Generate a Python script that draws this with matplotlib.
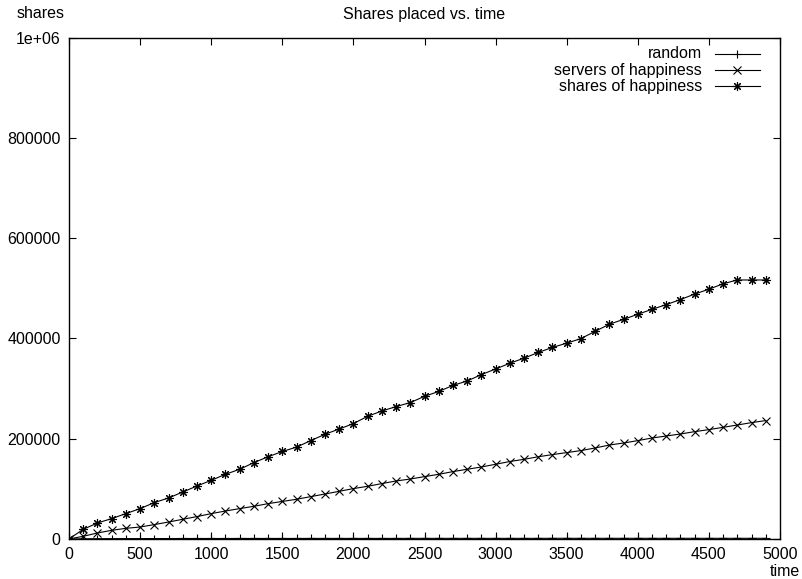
import matplotlib
matplotlib.use("Agg")
import matplotlib.pyplot as plt
from matplotlib.ticker import FixedLocator, FuncFormatter

plt.rcParams['font.family'] = ['Liberation Sans', 'DejaVu Sans']

# time axis: one sample every 100 units
time = [0, 100, 200, 300, 400, 500, 600, 700, 800, 900,
        1000, 1100, 1200, 1300, 1400, 1500, 1600, 1700, 1800, 1900,
        2000, 2100, 2200, 2300, 2400, 2500, 2600, 2700, 2800, 2900,
        3000, 3100, 3200, 3300, 3400, 3500, 3600, 3700, 3800, 3900,
        4000, 4100, 4200, 4300, 4400, 4500, 4600, 4700, 4800, 4900]

random_shares = [0, 400, 600, 700, 800, 800, 900, 900, 1000, 1000,
                 1000, 1000, 1100, 1100, 1100, 1100, 1100, 1200, 1200, 1200,
                 1200, 1200, 1200, 1200, 1300, 1300, 1300, 1300, 1300, 1300,
                 1300, 1300, 1300, 1300, 1400, 1400, 1400, 1400, 1400, 1400,
                 1400, 1400, 1400, 1400, 1400, 1400, 1400, 1400, 1400, 1400]

servers_happiness = [0, 5400, 12000, 17300, 21300, 23900, 28700, 33900, 39300, 44700,
                     50600, 55800, 60600, 65200, 70500, 74900, 79200, 84500, 89700, 95100,
                     100500, 105100, 110500, 115700, 119600, 124400, 129000, 134400, 139000, 143600,
                     149000, 154500, 158900, 164000, 168300, 172300, 176300, 181500, 187400, 191400,
                     196200, 201400, 205400, 209400, 214100, 218100, 222700, 227300, 232100, 236100]

shares_happiness = [0, 19300, 31900, 40700, 50600, 60600, 72600, 81800, 93700, 105700,
                    117000, 129000, 139000, 152300, 164000, 174500, 183200, 196200, 208800, 219300,
                    230100, 244700, 255200, 264000, 272000, 284500, 294200, 306200, 315100, 327800,
                    339000, 350500, 360600, 372000, 382000, 390500, 399600, 414200, 428200, 438000,
                    448100, 458000, 467400, 477400, 488500, 498000, 509000, 516500, 516500, 516500]

labels = ['random', 'servers of happiness', 'shares of happiness']
x_ticks = [0, 500, 1000, 1500, 2000, 2500, 3000, 3500, 4000, 4500, 5000]
y_ticks = [0, 200000, 400000, 600000, 800000, 1000000]

W, H = 803, 579
fig = plt.figure(figsize=(W / 100, H / 100), dpi=100)
left, right, top, bottom = 69, 780, 37.5, 539
ax = fig.add_axes([left / W, 1 - bottom / H, (right - left) / W, (bottom - top) / H])

series = [random_shares, servers_happiness, shares_happiness]
markers = ['+', 'x', (8, 2, 0)]
sizes = [6, 5.5, 6.5]
for ys, m, ms in zip(series, markers, sizes):
    ax.plot(time, ys, color='black', lw=0.8, marker=m, ms=ms, mew=0.8)

ax.set_xlim(0, 5000)
ax.set_ylim(0, 1000000)
ax.xaxis.set_major_locator(FixedLocator(x_ticks))
ax.yaxis.set_major_locator(FixedLocator(y_ticks))
ax.yaxis.set_major_formatter(FuncFormatter(lambda v, p: '1e+06' if v == 1000000 else '%d' % v))
ax.tick_params(direction='in', length=5, width=0.8, top=True, right=True,
               labelsize=11.5, colors='black')
ax.tick_params(axis='x', pad=5.5)
ax.tick_params(axis='y', pad=6)
for s in ax.spines.values():
    s.set_linewidth(1.0)

# gnuplot-style key: text right aligned, sample line to its right
key_rows = [53.5, 70, 86.5]
for lab, m, ms, ry in zip(labels, markers, sizes, key_rows):
    yf = 1 - ry / H
    fig.text(702 / W, yf, lab, ha='right', va='center', fontsize=11.5)
    fig.add_artist(plt.Line2D([715 / W, 760 / W], [yf, yf], color='black', lw=0.8))
    fig.add_artist(plt.Line2D([737.5 / W], [yf], color='black', marker=m, ms=ms, mew=0.8))

fig.text(424.5 / W, 1 - 14 / H, 'Shares placed vs. time', ha='center', va='center', fontsize=11.5)
fig.text(41 / W, 1 - 14 / H, 'shares', ha='center', va='center', fontsize=11.5)
fig.text(785 / W, 1 - 571 / H, 'time', ha='center', va='center', fontsize=11.5)

fig.savefig('out.png', dpi=100)
